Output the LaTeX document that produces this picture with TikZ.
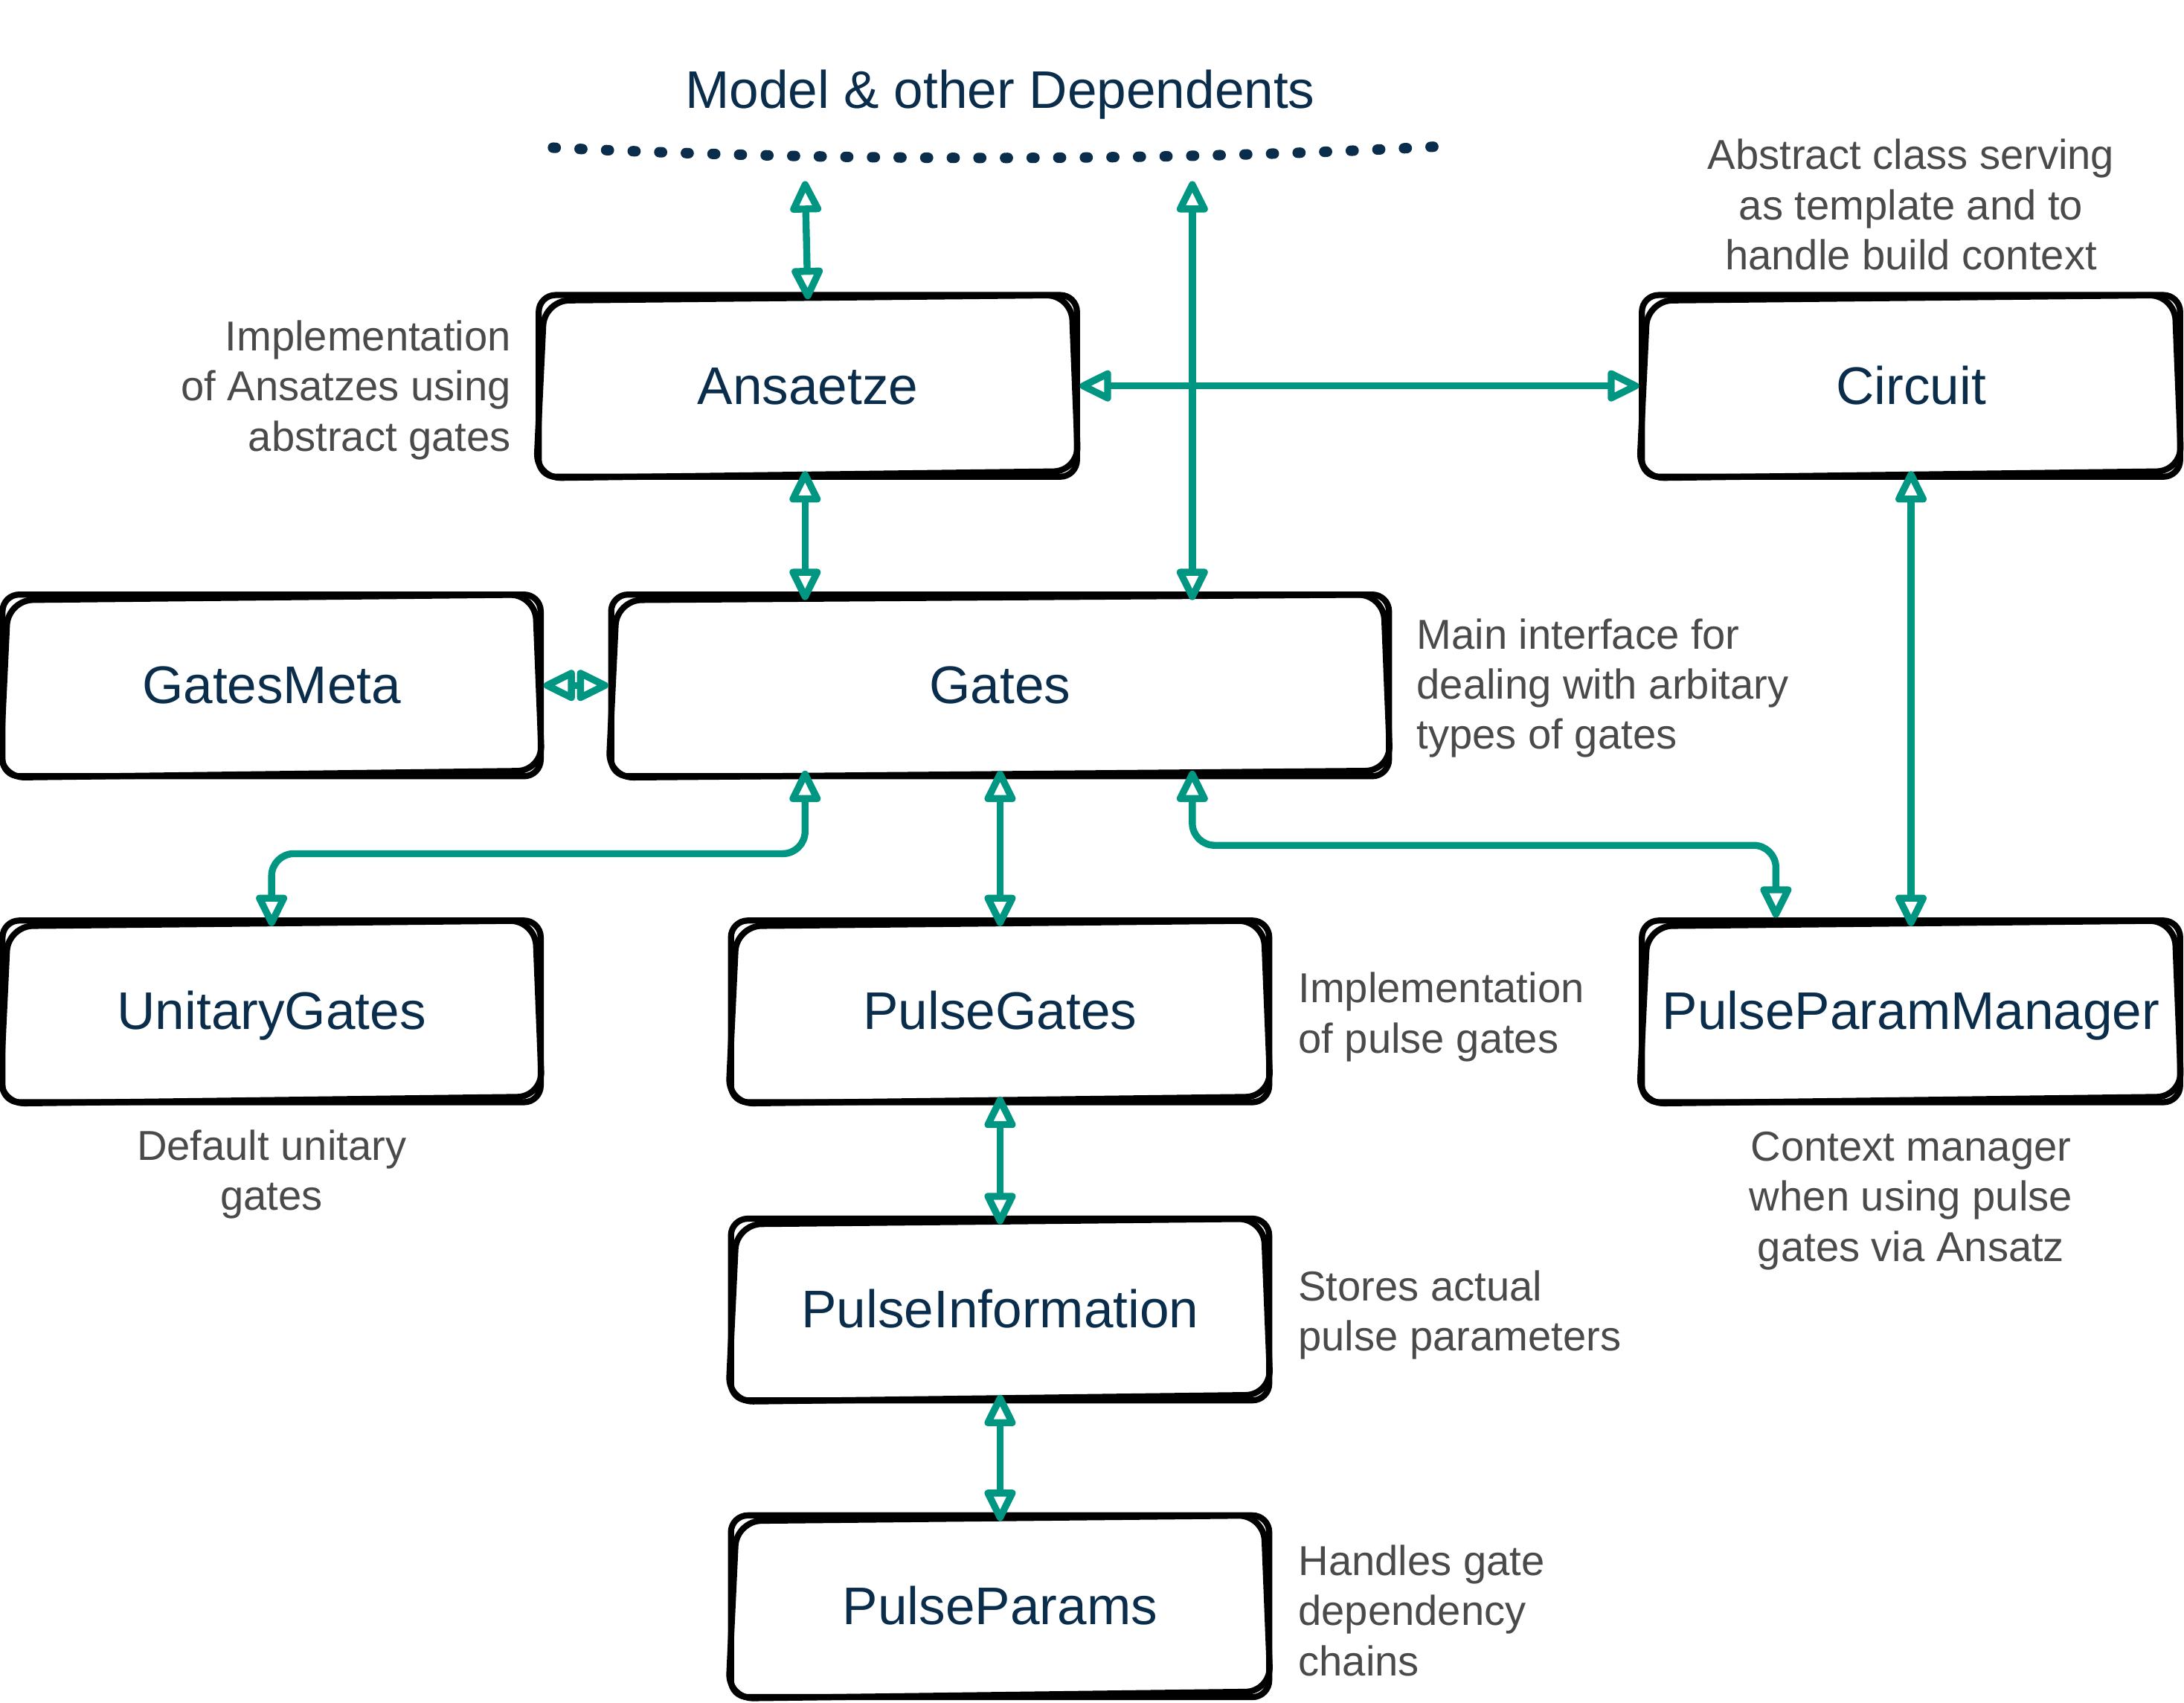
\documentclass[tikz,border=0pt]{standalone}
\usepackage{fontspec}
\setmainfont{Liberation Sans}
\usetikzlibrary{arrows.meta,calc}
\definecolor{navy}{HTML}{0B2D4C}
\definecolor{tealc}{HTML}{009682}
\definecolor{desc}{HTML}{4A4A4A}
\tikzset{
  boxn/.style={minimum width=384pt, minimum height=128pt, inner sep=0pt, text=navy, font=\fontsize{38}{46}\selectfont, text height=30pt, text depth=4pt},
  sk/.style={draw=black, line width=4.4pt, line join=round, line cap=round},
  arr/.style={draw=tealc, line width=5pt, line cap=round, line join=round,
    {Triangle[open,length=26pt,width=24pt,round]}-{Triangle[open,length=26pt,width=24pt,round]}},
  dsc/.style={inner sep=0pt, text=desc, font=\fontsize{30}{36}\selectfont},
}
\newcommand\rough[1]{%
  \draw[sk, rounded corners=12pt] ([shift={(-1,-1)}]#1.north west) rectangle ([shift={(1,1)}]#1.south east);
  \draw[sk, rounded corners=18pt] ([shift={(3,3)}]#1.north west) -- ([shift={(-3,-1)}]#1.north east) -- ([shift={(2,-3)}]#1.south east) -- ([shift={(-3,2)}]#1.south west) -- cycle;
}
\begin{document}
\begin{tikzpicture}[x=1pt,y=-1pt]
\useasboundingbox (0,0) rectangle (1568,1222);
% title and dotted line
\node[text=navy, font=\fontsize{38}{46}\selectfont] (title) at (718,68) {Model \& other Dependents};
\coordinate (dl) at (397,106);
\coordinate (dr) at (1035,105);
\draw[navy, line width=7.5pt, line cap=round, dash pattern=on 2pt off 17.1pt] (dl) .. controls (600,116) and (840,116) .. (dr);
% boxes
\node[boxn] (ans) at (580,277) {Ansaetze};
\node[boxn] (cir) at (1372,277) {Circuit};
\node[boxn] (gm) at (195,492) {GatesMeta};
\node[boxn, minimum width=556pt] (gates) at (718,492) {Gates};
\node[boxn] (ug) at (195,726) {UnitaryGates};
\node[boxn] (pg) at (718,726) {PulseGates};
\node[boxn] (ppm) at (1372,726) {PulseParamManager};
\node[boxn] (pi) at (718,940) {PulseInformation};
\node[boxn] (pp) at (718,1153) {PulseParams};
\foreach \n in {ans,cir,gm,gates,ug,pg,ppm,pi,pp}{\rough{\n}}
% free ends
\coordinate (topA) at (578,130);
\coordinate (topB) at (856,130);
% connectors
\draw[arr] (topA) -- ([yshift=-2]ans.north);
\draw[arr] (topB) -- ([yshift=-3]gates.north -| topB);
\draw[arr] ([xshift=3]ans.east) -- ([xshift=-3]cir.west);
\draw[arr] ([yshift=3]ans.south -| topA) -- ([yshift=-3]gates.north -| topA);
\draw[arr] ([xshift=3]gm.east) -- ([xshift=-3]gates.west);
\draw[arr, rounded corners=16pt] ([yshift=-3]ug.north) -- ++(0,-52) -| ([yshift=3]gates.south -| topA);
\draw[arr] ([yshift=3]gates.south) -- ([yshift=-3]pg.north);
\draw[arr, rounded corners=16pt] ($(ppm.north)+(-97,-3)$) -- ++(0,-52) -| ([yshift=3]gates.south -| topB);
\draw[arr] ([yshift=3]cir.south) -- ([yshift=-3]ppm.north);
\draw[arr] ([yshift=3]pg.south) -- ([yshift=-3]pi.north);
\draw[arr] ([yshift=3]pi.south) -- ([yshift=-3]pp.north);
% descriptions
\node[dsc, anchor=east, align=right] (d1) at (367,280) {Implementation\\of Ansatzes using\\abstract gates};
\node[dsc, align=center] (d2) at (1372,147) {Abstract class serving\\as template and to\\handle build context};
\node[dsc, anchor=west, align=left] (d3) at (1017,494) {Main interface for\\dealing with arbitary\\types of gates};
\node[dsc, anchor=west, align=left] (d4) at (932,730) {Implementation\\of pulse gates};
\node[dsc, align=center] (d5) at (195,843) {Default unitary\\gates};
\node[dsc, align=center] (d6) at (1372,862) {Context manager\\when using pulse\\gates via Ansatz};
\node[dsc, anchor=west, align=left] (d7) at (932,944) {Stores actual\\pulse parameters};
\node[dsc, anchor=west, align=left] (d8) at (932,1156) {Handles gate\\dependency\\chains};
\end{tikzpicture}
\end{document}
